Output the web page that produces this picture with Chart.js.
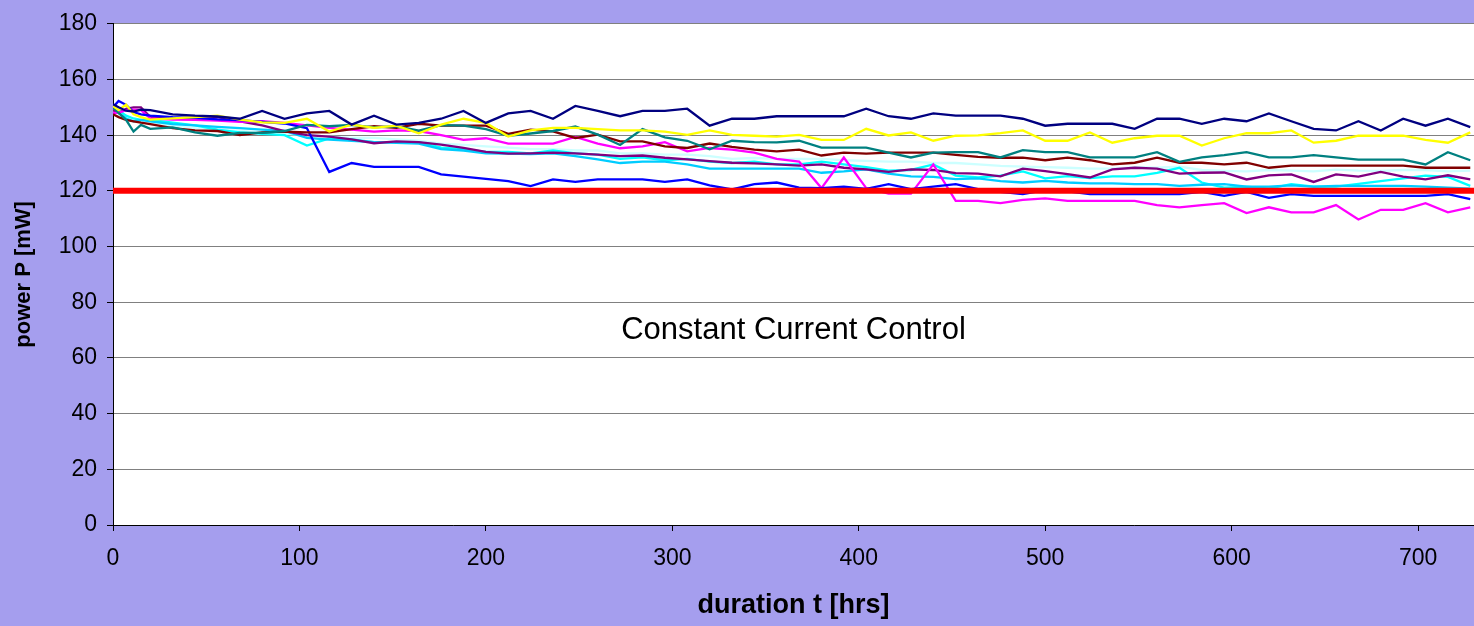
<!DOCTYPE html>
<html>
<head>
<meta charset="utf-8">
<title>Constant Current Control</title>
<script src="https://cdn.jsdelivr.net/npm/chart.js@4/dist/chart.umd.min.js"></script>
<style>
  html, body { margin: 0; padding: 0; background: #a59eee; }
</style>
</head>
<body>
<canvas id="powerChart" width="1474" height="626"></canvas>
<script>
// sample times in hours
const hours = [0, 3, 7, 11, 15, 20, 32, 44, 56, 68,
  80, 92, 104, 116, 128, 140, 152, 164, 176, 188,
  200, 212, 224, 236, 248, 260, 272, 284, 296, 308,
  320, 332, 344, 356, 368, 380, 392, 404, 416, 428,
  440, 452, 464, 476, 488, 500, 512, 524, 536, 548,
  560, 572, 584, 596, 608, 620, 632, 644, 656, 668,
  680, 692, 704, 716, 728];

// measured power per device, mW
const power1 = [151.1, 150, 148.8, 148.5, 149.2, 149, 147.5, 147, 146.7, 145.9,
  148.7, 145.9, 147.8, 148.7, 143.8, 147, 143.8, 144.4, 145.9, 148.7,
  144.4, 147.8, 148.7, 145.9, 150.5, 148.7, 146.8, 148.7, 148.7, 149.5,
  143.4, 145.9, 145.9, 146.8, 146.8, 146.8, 146.8, 149.5, 146.8, 145.9,
  147.8, 147, 147, 147, 145.9, 143.4, 144.1, 144.1, 144.1, 142.3,
  145.9, 145.9, 144.1, 145.9, 145, 147.8, 145, 142.3, 141.7, 145,
  141.7, 145.9, 143.4, 145.9, 142.9];
const power2 = [150.5, 149, 151, 147.5, 146.5, 145.6, 146, 146.5, 147, 145.6,
  144.6, 144.4, 145.9, 141.3, 143.8, 142.6, 143.4, 140.7, 143.8, 145.9,
  144.4, 139.5, 141.7, 142.6, 142.6, 142.2, 141.7, 141.7, 141.3, 140.1,
  141.7, 140.1, 139.8, 139.5, 140.1, 138.3, 138.3, 142.3, 139.9, 141,
  138, 139.8, 139.9, 140.7, 141.7, 138, 138, 141, 137.3, 138.9,
  139.8, 139.8, 136.3, 138.9, 140.7, 140.7, 141.7, 137.3, 138, 139.8,
  139.8, 139.8, 138.3, 137.3, 141];
const power3 = [150, 148, 145.5, 141.3, 143.7, 142.3, 142.8, 141, 139.8, 140.8,
  140.8, 141.5, 143.7, 143.2, 143.7, 142.8, 143.2, 141.6, 143.6, 143.4,
  142.2, 139.8, 140.6, 141.5, 143.1, 140.2, 136.5, 142.2, 139.2, 138,
  134.9, 138, 137.5, 137.4, 138, 135.5, 135.5, 135.5, 133.7, 132,
  133.7, 133.9, 133.9, 132, 134.6, 133.9, 133.9, 132, 132, 132,
  133.9, 130.4, 132, 132.8, 133.9, 132, 132, 132.8, 132, 131.2,
  131.2, 131.2, 129.5, 133.9, 131];
const power4 = [147.5, 146.5, 145.5, 145, 144.5, 144, 142.5, 141.7, 141.5, 140,
  141, 141.3, 141, 141, 142.2, 143.2, 142.6, 144.1, 143.4, 143.4,
  143.4, 140.5, 142, 141.4, 139, 140.2, 137.8, 137.8, 136, 135.4,
  137, 135.8, 134.8, 134.2, 134.8, 132.7, 133.7, 133.4, 133.7, 133.7,
  133.7, 132.9, 132.2, 131.9, 131.9, 131, 131.9, 131, 129.5, 130.1,
  131.9, 130.1, 130.1, 129.5, 130.1, 128.3, 129.1, 129.1, 129.1, 129.1,
  129.1, 129.1, 128.3, 128.3, 128.3];
const power5 = [150, 152.3, 150.9, 148.3, 147.5, 147, 146.5, 146.2, 145.7, 145.4,
  144.8, 144.2, 142.5, 126.8, 130, 128.6, 128.6, 128.6, 125.9, 125.1,
  124.3, 123.5, 121.7, 124.1, 123.2, 124.1, 124.1, 124.1, 123.2, 124.1,
  122, 120.5, 122.4, 123, 121.2, 121, 121.5, 120.7, 122.4, 120.6,
  121.5, 122.4, 120.6, 119.6, 118.8, 120.3, 119.8, 118.8, 118.8, 118.8,
  118.8, 118.8, 119.6, 118.2, 119.6, 117.5, 118.8, 118.2, 118.2, 118.2,
  118.2, 118.2, 118.2, 118.8, 117];
const power6 = [148, 148, 149, 149.2, 149, 146, 145.6, 145.5, 145.2, 144.8,
  145, 144.4, 143.5, 142.6, 142, 141.3, 141.7, 141.5, 140, 138.3,
  138.9, 137, 137, 137, 139.4, 137, 135.3, 136, 137.5, 134.2,
  135.4, 134.8, 133.7, 131.5, 130.5, 121, 132, 121, 119, 119,
  129.5, 116.4, 116.4, 115.6, 116.8, 117.3, 116.4, 116.4, 116.4, 116.4,
  114.9, 114.1, 114.9, 115.6, 112, 114.1, 112.3, 112.3, 114.9, 109.7,
  113.2, 113.2, 115.6, 112.3, 114.1];
const power7 = [149, 148, 149.5, 150, 150, 146.5, 146, 146, 146.5, 145,
  143.5, 141.5, 140, 139.5, 138.5, 137.1, 137.8, 137.5, 136.6, 135.4,
  134, 133.4, 133.5, 133.7, 133.5, 133, 132.5, 132.7, 131.9, 131.3,
  130.7, 130.1, 129.9, 129.5, 129.1, 129.5, 128.3, 127.7, 126.8, 127.7,
  127.5, 126.4, 126.2, 125.2, 128, 127.1, 126, 124.8, 127.7, 128.3,
  128, 126.2, 126.5, 126.6, 124.1, 125.6, 125.9, 123.2, 125.9, 125.1,
  126.8, 125.1, 124.1, 125.6, 124.1];
const power8 = [150, 148, 146, 145, 145.5, 145, 144, 143.5, 143, 142.5,
  142, 141.5, 139, 138.4, 138, 137.5, 137.2, 137, 135, 134.5,
  133.5, 133.4, 133.2, 133.5, 132.5, 131.3, 130, 130.5, 130.5, 129.5,
  128, 128, 128, 128, 128, 126.5, 127, 127.7, 126.2, 125.2,
  125, 124.2, 124.5, 123.5, 123, 123.6, 123, 122.7, 122.7, 122.4,
  122.4, 121.8, 122.2, 122.4, 121.5, 121.5, 122, 121.5, 121.8, 121.8,
  121.8, 121.8, 121.5, 121.2, 120.8];
const power9 = [150, 149, 147, 146, 145.5, 145.5, 144.5, 143.5, 142, 141,
  140.5, 140, 136.3, 138.8, 138.5, 137.5, 137.5, 137.5, 135.5, 135,
  134, 134, 133.5, 134.5, 133.5, 133, 131.5, 132, 131, 131.5,
  130.5, 130, 130.5, 129.5, 129.5, 130.5, 129.5, 128.5, 127.3, 127.5,
  129.5, 125.5, 124.8, 125.5, 127, 124.5, 125.3, 124.6, 125.2, 125.2,
  126.5, 128.3, 123, 121.2, 121.5, 120.8, 122.4, 121.5, 121.5, 122.5,
  123.5, 124.5, 125.5, 125, 121.8];
const power10 = [149, 148, 146, 145.5, 145, 144.5, 143.5, 142.5, 142, 141.5,
  141, 140.5, 140, 139.5, 139, 139, 138.5, 138, 137, 136.5,
  136, 135.5, 135, 135, 134.5, 134.5, 133.5, 133.5, 133, 133,
  132.5, 131.5, 131.8, 131.5, 131.5, 131.5, 131, 130.8, 130.5, 130.5,
  130, 130, 129.5, 129, 128.7, 128.5, 128.3, 128, 128, 128.5,
  128.3, 128.7, 127.5, 127.2, 127, 127.5, 127.3, 127, 127.6, 127.3,
  127.2, 127.5, 127.5, 127, 127.3];

const lineColors = ["#000080", "#ffff00", "#008080", "#800000", "#0000ff",
  "#ff00ff", "#800080", "#00ccff", "#00ffff", "#ccffff"];

// target power level
const targetHours = [0, 730];
const targetPower = [120, 120];

const fontFamily = "'Liberation Sans', Arial, sans-serif";

const runs = [power1, power2, power3, power4, power5, power6, power7, power8, power9, power10];

const datasets = runs.map((vals, i) => ({
  data: vals.map((p, j) => ({ x: hours[j], y: p })),
  borderColor: lineColors[i],
  borderWidth: 2.3,
  pointRadius: 0,
  tension: 0,
  fill: false
}));

// red target line goes first so it is drawn on top
datasets.unshift({
  data: targetPower.map((p, j) => ({ x: targetHours[j], y: p })),
  borderColor: "#ff0000",
  borderWidth: 6,
  pointRadius: 0,
  fill: false
});

const plotBackground = {
  id: "plotBackground",
  beforeDraw(chart) {
    const { ctx, chartArea: a } = chart;
    ctx.save();
    ctx.fillStyle = "#ffffff";
    ctx.fillRect(a.left, a.top, a.right - a.left, a.bottom - a.top);
    ctx.restore();
  }
};

const caption = {
  id: "caption",
  afterDatasetsDraw(chart) {
    const { ctx, scales } = chart;
    ctx.save();
    ctx.font = "31px " + fontFamily;
    ctx.fillStyle = "#000000";
    ctx.textAlign = "center";
    ctx.textBaseline = "middle";
    ctx.fillText("Constant Current Control", scales.x.getPixelForValue(365), scales.y.getPixelForValue(70));
    ctx.restore();
  }
};

new Chart(document.getElementById("powerChart"), {
  type: "line",
  data: { datasets: datasets },
  plugins: [plotBackground, caption],
  options: {
    responsive: false,
    animation: false,
    layout: { padding: { top: 18, right: 0, bottom: 0, left: 0 } },
    plugins: {
      legend: { display: false },
      tooltip: { enabled: false }
    },
    scales: {
      x: {
        type: "linear",
        min: 0,
        max: 730,
        border: { color: "#000000", width: 1 },
        grid: { drawOnChartArea: false, color: "#000000", tickLength: 6 },
        ticks: {
          stepSize: 100,
          includeBounds: false,
          padding: 14,
          color: "#000000",
          font: { family: fontFamily, size: 23 }
        },
        title: {
          display: true,
          text: "duration t [hrs]",
          color: "#000000",
          font: { family: fontFamily, size: 27, weight: "bold" },
          padding: { top: 0, bottom: 4 }
        },
        afterFit(scale) { scale.height = 101; }
      },
      y: {
        min: 0,
        max: 180,
        border: { color: "#000000", width: 1 },
        grid: { color: "#808080", tickColor: "#000000", tickLength: 6 },
        ticks: {
          stepSize: 20,
          padding: 10,
          color: "#000000",
          font: { family: fontFamily, size: 23 }
        },
        title: {
          display: true,
          text: "power P [mW]",
          color: "#000000",
          font: { family: fontFamily, size: 22, weight: "bold" },
          padding: { top: 11, bottom: 0 }
        },
        afterFit(scale) { scale.width = 113; }
      }
    }
  }
});
</script>
</body>
</html>
